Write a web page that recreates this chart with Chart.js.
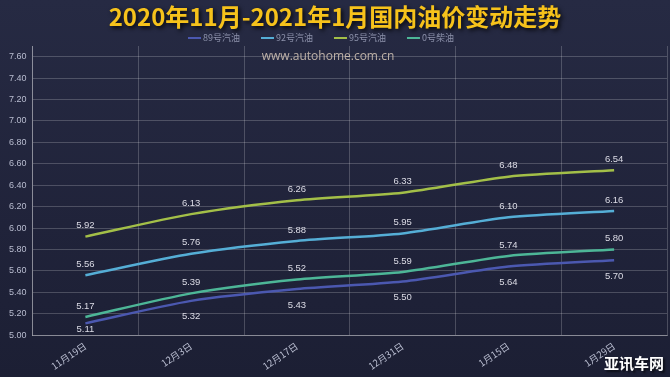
<!DOCTYPE html>
<html lang="zh-CN">

<head>
    <meta charset="UTF-8">
    <title>国内油价变动走势</title>
    <style>
        html, body { margin: 0; padding: 0; }
        body {
            width: 670px; height: 377px; overflow: hidden;
            background: linear-gradient(180deg, #262a43 0%, #20233a 60%, #1c1f34 100%);
        }
        #wrap { position: relative; width: 670px; height: 377px; }
    </style>
</head>

<body>
    <div id="wrap">
        <canvas id="myChart" width="670" height="377"></canvas>
    </div>

    <script src="https://cdn.jsdelivr.net/npm/chart.js"></script>
    <script>
        // 数据
        var dates = ['11月19日', '12月3日', '12月17日', '12月31日', '1月15日', '1月29日'];
        var seriesNames = ['89号汽油', '92号汽油', '95号汽油', '0号柴油'];
        var oil89 = [5.11, 5.32, 5.43, 5.50, 5.64, 5.70];
        var oil92 = [5.56, 5.76, 5.88, 5.95, 6.10, 6.16];
        var oil95 = [5.92, 6.13, 6.26, 6.33, 6.48, 6.54];
        var oil0 = [5.17, 5.39, 5.52, 5.59, 5.74, 5.80];

        var colors = ['#4b58b0', '#55aed6', '#a3bf48', '#4db697'];
        var labelBelow = [true, false, false, false];
        var fontFam = '"Noto Sans CJK SC", "Noto Sans", sans-serif';

        // 标题、图例、数值标签、水印
        var decorPlugin = {
            id: 'decor',
            afterDatasetsDraw: function (chart) {
                var ctx = chart.ctx;
                var area = chart.chartArea;
                ctx.save();
                ctx.font = '9.5px "Liberation Sans", sans-serif';
                ctx.fillStyle = '#dcdce6';
                ctx.textAlign = 'center';
                ctx.textBaseline = 'middle';
                chart.data.datasets.forEach(function (ds, i) {
                    var meta = chart.getDatasetMeta(i);
                    meta.data.forEach(function (pt, j) {
                        var y = labelBelow[i] ? pt.y + 16 : pt.y - 11;
                        if (y > area.bottom - 6) y = area.bottom - 6;
                        ctx.fillText(ds.data[j].toFixed(2), pt.x, y);
                    });
                });
                ctx.restore();
            },
            afterDraw: function (chart) {
                var ctx = chart.ctx;
                ctx.save();
                // 标题
                ctx.font = 'bold 24px ' + fontFam;
                ctx.textAlign = 'center';
                ctx.textBaseline = 'middle';
                ctx.shadowColor = 'rgba(0,0,0,0.85)';
                ctx.shadowBlur = 4;
                ctx.shadowOffsetX = 2;
                ctx.shadowOffsetY = 2;
                ctx.fillStyle = '#f6c21b';
                ctx.fillText('2020年11月-2021年1月国内油价变动走势', 335, 17);
                ctx.shadowColor = 'transparent';

                // 图例
                ctx.font = '9px ' + fontFam;
                ctx.textAlign = 'left';
                var x = 188;
                chart.data.datasets.forEach(function (ds, i) {
                    ctx.fillStyle = colors[i];
                    ctx.fillRect(x, 37, 13, 2);
                    ctx.fillStyle = '#8d92ab';
                    ctx.fillText(ds.label, x + 15, 38);
                    x += 15 + ctx.measureText(ds.label).width + 21;
                });

                // 水印
                ctx.font = '12px "Open Sans", sans-serif';
                ctx.textAlign = 'center';
                ctx.fillStyle = 'rgba(215,200,185,0.85)';
                ctx.fillText('www.autohome.com.cn', 328, 57);

                // 角标
                ctx.font = 'bold 15px ' + fontFam;
                ctx.textAlign = 'right';
                ctx.fillStyle = '#ffffff';
                ctx.shadowColor = 'rgba(0,0,0,0.6)';
                ctx.shadowBlur = 2;
                ctx.fillText('亚讯车网', 664, 363);
                ctx.restore();
            }
        };

        var allData = [oil89, oil92, oil95, oil0];
        var datasets = seriesNames.map(function (name, i) {
            return {
                label: name,
                data: allData[i],
                borderColor: colors[i],
                backgroundColor: colors[i],
                borderWidth: 2.5,
                tension: 0.25,
                pointRadius: 0,
                fill: false
            };
        });

        const ctx = document.getElementById('myChart');
        var myChart = new Chart(ctx, {
            type: 'line',
            data: { labels: dates, datasets: datasets },
            plugins: [decorPlugin],
            options: {
                responsive: false,
                animation: false,
                layout: { padding: { top: 46, left: 3, right: 3, bottom: 0 } },
                plugins: {
                    legend: { display: false },
                    title: { display: false },
                    tooltip: { enabled: false }
                },
                scales: {
                    x: {
                        offset: true,
                        grid: { offset: true, color: 'rgba(255,255,255,0.2)', drawTicks: false },
                        border: { color: 'rgba(255,255,255,0.35)' },
                        ticks: {
                            color: '#b9bdd0',
                            font: { size: 9.5, family: fontFam },
                            minRotation: 34,
                            maxRotation: 34,
                            padding: 5
                        }
                    },
                    y: {
                        min: 5.0,
                        max: 7.7,
                        afterBuildTicks: function (axis) {
                            axis.ticks = axis.ticks.filter(function (t) { return t.value <= 7.6 + 1e-6; });
                        },
                        grid: { color: 'rgba(255,255,255,0.2)', drawTicks: false },
                        border: { color: 'rgba(255,255,255,0.35)' },
                        ticks: {
                            stepSize: 0.2,
                            color: '#b9bdd0',
                            font: { size: 9, family: '"Liberation Sans", sans-serif' },
                            padding: 6,
                            callback: function (v) { return Number(v).toFixed(2); }
                        }
                    }
                }
            }
        });
    </script>
</body>

</html>
